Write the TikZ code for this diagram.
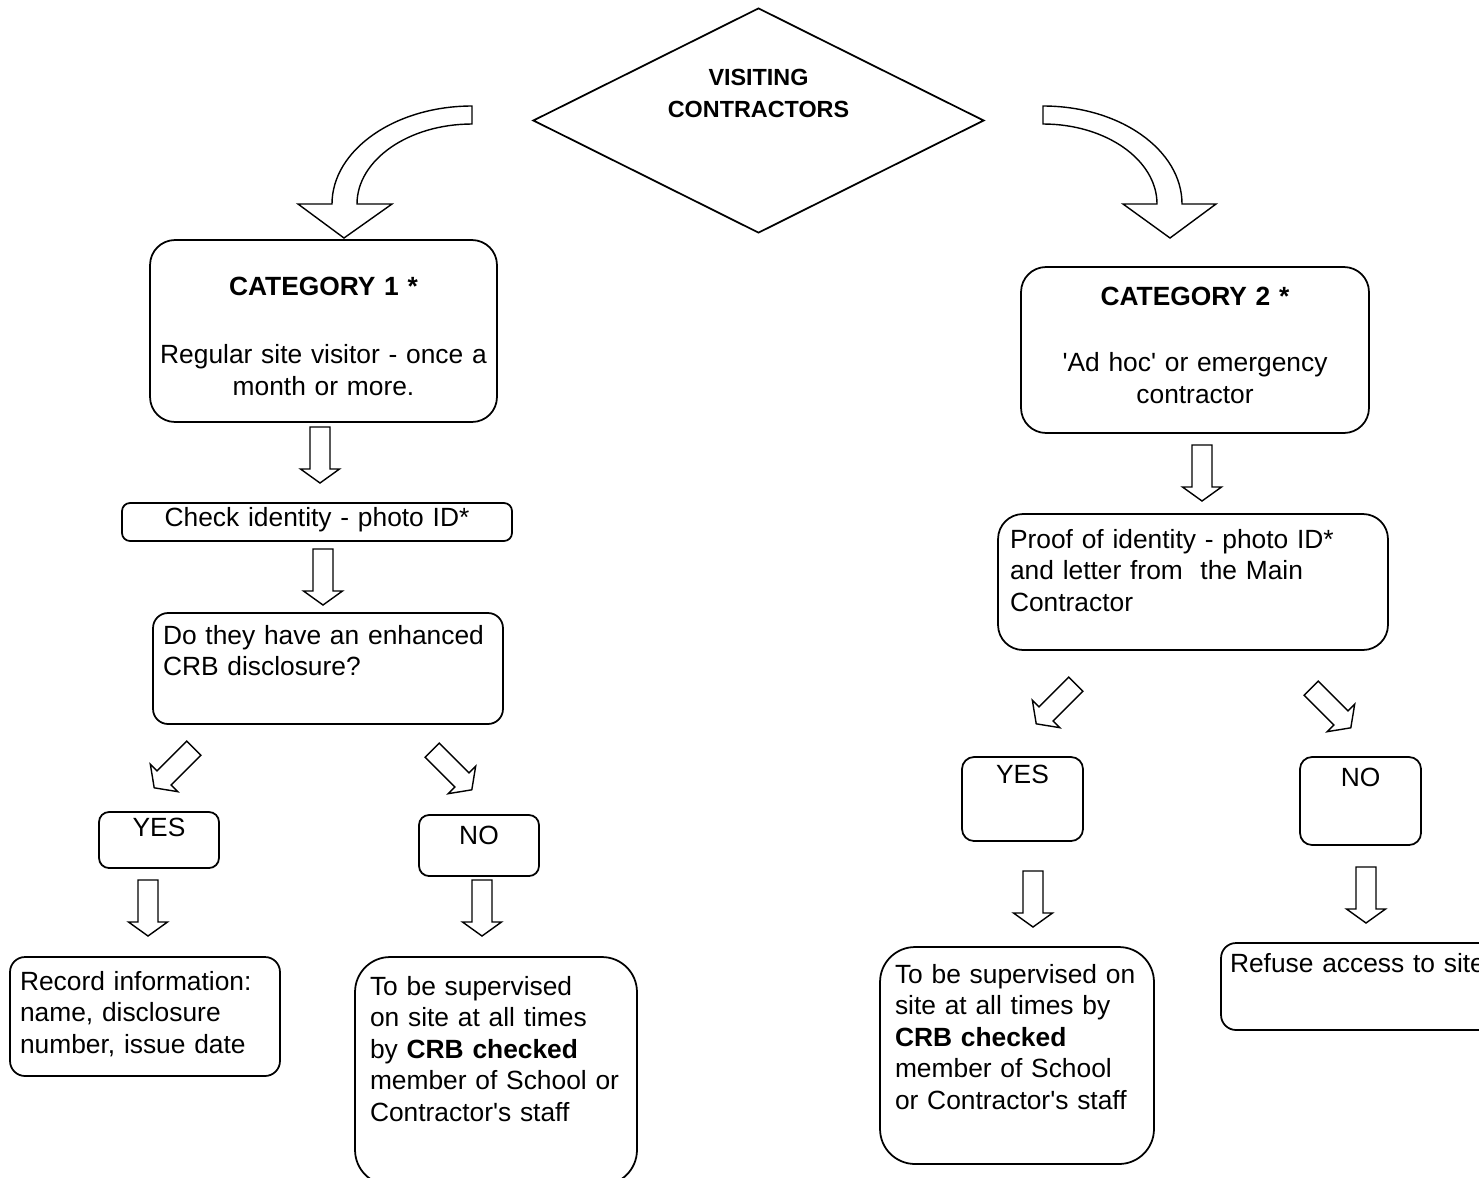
\documentclass[tikz,border=0pt]{standalone}
\usepackage{fontspec}
\setmainfont{Liberation Sans}
\usetikzlibrary{shapes.geometric}

\begin{document}
\begin{tikzpicture}[x=0.02cm, y=-0.02cm, line width=1pt,
        box/.style={draw, rounded corners=0.3cm, inner ysep=0pt, inner xsep=0.2cm, font=\fontsize{15}{18}\selectfont},
        mid/.style={box, align=center},
        lft/.style={box, align=left},
        blockarrow/.pic={\draw[line width=0.8pt, fill=white] (-10,-28) -- (10,-28) -- (10,14) -- (19.5,14) -- (0,28) -- (-19.5,14) -- (-10,14) -- cycle;}]
        \useasboundingbox (0,0) rectangle (1479,1177);

        \node (visit) [diamond, draw, aspect=2, inner sep=0pt, minimum width=9.02cm, minimum height=4.5cm, text width=3.8cm, align=center, text height=0.24cm, text depth=1.66cm, font=\bfseries\fontsize{13.3}{18.7}\selectfont] at (758.5,120.5) {VISITING\\CONTRACTORS};

        % left branch
        \node (cat1) [mid, rounded corners=0.5cm, text width=6.54cm, text height=1.1cm, text depth=2.54cm] at (323.5,331) {\textbf{CATEGORY 1 *}\\[21pt]Regular site visitor - once a\\month or more.};
        \node (check) [mid, rounded corners=0.16cm, text width=7.4cm, text height=0.46cm, text depth=0.3cm] at (317,522) {Check identity - photo ID*};
        \node (crb) [lft, text width=6.6cm, text height=0.62cm, text depth=1.6cm] at (328,668.5) {Do they have an enhanced\\CRB disclosure?};
        \node (yes1) [mid, rounded corners=0.2cm, text width=2cm, text height=0.48cm, text depth=0.64cm] at (159,840) {YES};
        \node (no1) [mid, rounded corners=0.2cm, text width=2cm, text height=0.58cm, text depth=0.64cm] at (479,845.5) {NO};
        \node (record) [lft, text width=5cm, text height=0.66cm, text depth=1.72cm] at (145,1016.5) {Record information:\\name, disclosure\\number, issue date};
        \node (sup1) [lft, rounded corners=0.7cm, inner xsep=0.3cm, text width=5.04cm, text height=0.76cm, text depth=3.8cm] at (496,1071) {To be supervised\\on site at all times\\by \textbf{CRB checked}\\member of School or\\Contractor\textquotesingle s staff};

        % right branch
        \node (cat2) [mid, rounded corners=0.5cm, text width=6.56cm, text height=0.76cm, text depth=2.56cm] at (1195,350) {\textbf{CATEGORY 2 *}\\[20pt]\textquotesingle Ad hoc\textquotesingle{} or emergency\\contractor};
        \node (proof) [lft, rounded corners=0.5cm, inner xsep=0.24cm, text width=7.32cm, text height=0.68cm, text depth=2.04cm] at (1193,582) {Proof of identity - photo ID*\\and letter from\ \ the Main\\Contractor};
        \node (yes2) [mid, rounded corners=0.24cm, text width=2.02cm, text height=0.52cm, text depth=1.16cm] at (1022.5,799) {YES};
        \node (no2) [mid, rounded corners=0.24cm, text width=2.02cm, text height=0.58cm, text depth=1.18cm] at (1360.5,801) {NO};
        \node (sup2) [lft, rounded corners=0.7cm, inner xsep=0.3cm, text width=4.88cm, text height=0.72cm, text depth=3.62cm] at (1017,1055.5) {To be supervised on\\site at all times by\\\textbf{CRB checked}\\member of School\\or Contractor\textquotesingle s staff};
        \node (refuse) [lft, inner xsep=0.18cm, text width=5.42cm, text height=0.58cm, text depth=1.16cm] at (1365.5,986.5) {Refuse access to site};

        % curved arrows out of the diamond
        \draw[line width=0.8pt, fill=white] (472,106) -- (472,124) .. controls (408.5,124) and (357,160) .. (357,204) -- (392,204) -- (344,238) -- (298,204) -- (332,204) .. controls (332,150) and (395,106) .. (472,106) -- cycle;
        \draw[line width=0.8pt, fill=white] (1043,106) .. controls (1120,106) and (1182,150) .. (1182,204) -- (1216,204) -- (1170,238) -- (1123,204) -- (1157,204) .. controls (1157,160) and (1106,124) .. (1043,124) -- cycle;

        % block arrows
        \pic at (320,455) {blockarrow};
        \pic at (323,577) {blockarrow};
        \pic[rotate=-45] at (174,768) {blockarrow};
        \pic[rotate=45] at (452,770) {blockarrow};
        \pic at (148,908) {blockarrow};
        \pic at (482,908) {blockarrow};
        \pic at (1202,473) {blockarrow};
        \pic[rotate=-45] at (1056,704) {blockarrow};
        \pic[rotate=45] at (1331,708) {blockarrow};
        \pic at (1033,899) {blockarrow};
        \pic at (1366,895) {blockarrow};
    \end{tikzpicture}
\end{document}
